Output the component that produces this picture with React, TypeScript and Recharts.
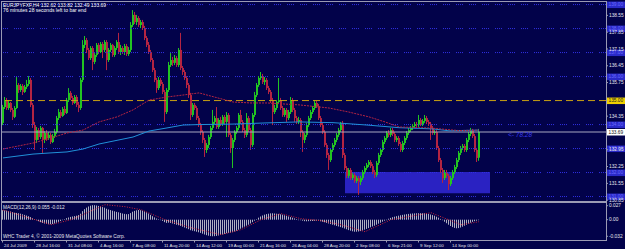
import React from "react";
import { ComposedChart, Bar, Line, XAxis, YAxis, ReferenceLine, ReferenceArea } from "recharts";

const BG = "#02024a";
const FRAME = "#9a9ab4";
const TEXT = "#e6e6ee";
const BULL = "#22c422";
const BEAR = "#b42442";
const LEVEL = "#3030e4";
const FONT = "'Liberation Sans', Arial, sans-serif";

// ── EURJPY H4 bars, 24 Jul – 16 Sep 2009 ─────────────────────────────────────
const opens = [134.07,134.73,135.02,134.69,134.90,134.61,134.32,134.69,135.65,135.44,
135.61,135.36,135.57,135.69,135.86,134.82,133.98,133.36,133.77,133.48,
133.86,133.36,133.65,133.44,133.57,133.27,133.52,133.69,134.27,134.52,
134.36,134.65,134.48,135.02,135.32,135.11,134.90,135.15,134.82,134.69,
135.86,137.32,137.52,137.11,136.77,137.19,136.61,136.90,137.32,137.02,
137.36,137.11,137.44,136.69,137.11,137.32,136.90,137.19,137.44,137.02,
137.19,137.02,137.27,136.94,137.11,138.15,138.57,138.27,138.44,138.15,
138.27,138.02,137.61,137.32,137.02,136.69,136.27,135.86,135.52,135.86,
135.69,135.36,134.52,135.44,136.48,136.69,136.57,136.77,136.48,137.11,
136.36,136.19,135.94,135.65,135.23,134.40,134.82,134.69,134.27,133.98,
133.69,133.36,132.94,133.15,133.48,133.86,134.11,134.27,133.90,134.19,
134.02,134.32,134.11,134.40,133.57,133.02,133.36,133.69,133.86,134.40,
134.11,133.77,133.57,134.27,133.77,133.15,134.40,135.23,135.65,135.94,
136.02,135.77,135.86,135.52,135.36,135.02,134.52,134.69,134.94,135.02,
134.69,134.40,134.61,134.27,134.52,135.02,134.61,134.27,134.11,134.19,
133.69,133.36,133.57,133.98,134.27,134.52,134.69,134.90,134.77,134.27,
133.98,133.69,133.15,132.73,132.52,132.94,133.15,133.36,133.57,133.77,
134.07,132.73,132.19,131.86,132.11,131.77,131.90,131.65,131.77,131.61,
131.77,132.02,132.19,132.32,132.44,132.27,132.02,131.90,132.40,132.73,
132.94,133.27,133.44,133.65,133.57,133.77,133.61,133.36,133.44,133.19,
132.94,133.23,133.44,133.65,133.77,133.86,133.94,134.02,133.98,134.19,
134.02,134.15,134.27,134.11,134.02,133.86,133.65,133.69,133.02,132.52,
132.11,131.77,132.02,131.86,131.52,131.77,132.02,132.23,132.52,132.82,
133.02,133.11,132.94,133.36,133.61,133.73,133.52,132.94,132.62];

const highs = [134.82,135.15,135.11,135.02,134.94,134.69,134.77,135.98,135.73,135.69,
135.69,135.65,135.86,136.02,135.94,134.90,134.11,133.90,133.86,133.94,
133.90,133.73,133.77,133.69,133.65,133.61,133.82,134.36,134.65,134.61,
134.73,134.77,135.11,135.52,135.40,135.19,135.23,135.23,134.94,135.94,
137.52,137.69,137.61,137.19,137.27,137.27,136.98,137.40,137.40,137.44,
137.44,137.52,137.52,137.19,137.40,137.36,137.27,137.52,137.82,137.32,
137.27,137.36,137.36,137.23,138.27,138.77,138.69,138.57,138.52,138.36,
138.36,138.11,137.69,137.44,137.11,136.77,136.36,135.94,135.98,135.94,
135.77,135.44,135.52,136.61,136.98,136.82,136.90,136.86,137.19,137.82,
136.44,136.27,136.02,135.73,135.32,134.90,134.90,134.77,134.36,134.07,
133.77,133.44,133.23,133.57,133.94,134.61,134.36,134.73,134.27,134.32,
134.40,134.40,134.52,134.48,133.65,133.44,133.77,133.94,134.48,134.61,
134.19,133.86,134.48,134.36,133.86,134.48,135.36,135.73,136.02,136.19,
136.11,135.98,135.94,135.61,135.44,135.11,134.82,135.02,135.94,135.11,
134.77,134.69,134.69,134.61,135.15,135.11,134.69,134.36,134.32,134.27,
133.77,133.65,134.07,134.36,134.61,134.77,135.02,134.98,134.86,134.36,
134.07,133.77,133.23,132.82,133.02,133.23,133.44,133.65,133.86,134.11,
134.15,132.82,132.27,132.19,132.19,131.98,131.98,131.86,131.86,131.86,
132.11,132.27,132.40,132.52,132.52,132.36,132.11,132.48,132.82,133.02,
133.36,133.52,133.73,133.77,133.86,133.86,133.69,133.52,133.52,133.27,
133.32,133.52,133.73,133.86,133.94,134.02,134.11,134.11,134.40,134.27,
134.23,134.40,134.36,134.19,134.11,133.94,133.77,133.77,133.11,132.61,
132.19,132.11,132.11,131.94,131.86,132.11,132.32,132.61,132.90,133.11,
133.19,133.19,133.44,133.69,133.86,133.82,133.61,133.02,133.82];

const lows = [133.98,134.65,134.61,134.61,134.52,134.19,134.27,134.65,135.32,135.36,
135.23,135.32,135.48,135.61,134.73,133.86,132.94,133.23,133.36,133.40,
132.82,133.23,133.32,133.36,133.19,133.23,133.44,133.61,134.19,134.27,
134.32,134.40,134.44,134.94,135.02,134.82,134.86,134.73,134.52,134.61,
135.77,137.19,136.98,136.69,136.69,136.27,136.52,136.82,136.94,136.98,
136.77,137.02,136.27,136.61,137.02,136.82,136.82,137.11,136.94,136.90,
136.94,136.90,136.86,136.86,137.02,138.07,138.19,138.15,138.07,138.02,
137.94,137.52,137.23,136.94,136.61,136.19,135.77,135.32,135.44,135.61,
135.27,134.11,134.44,135.36,136.40,136.44,136.48,136.40,136.40,136.27,
136.07,135.86,135.52,135.11,134.19,134.32,134.61,134.19,133.90,133.57,
133.23,132.65,132.82,133.02,133.40,133.77,134.02,133.82,133.82,133.94,
133.94,134.02,133.48,133.48,132.82,132.19,133.27,133.61,133.77,134.02,
133.69,133.44,133.48,133.69,132.94,133.07,134.32,135.15,135.57,135.86,
135.69,135.65,135.44,135.27,134.90,133.98,134.44,134.61,134.86,134.61,
134.32,134.32,134.11,134.19,134.44,134.52,134.11,134.02,134.02,133.48,
132.86,133.23,133.48,133.90,134.19,134.44,134.61,134.69,134.19,133.90,
133.61,133.07,132.61,132.11,132.44,132.86,133.07,133.27,133.48,133.69,
132.61,132.11,131.77,131.77,131.69,131.69,131.57,131.57,131.07,131.48,
131.69,131.94,132.11,132.23,132.19,131.94,131.77,131.82,132.32,132.65,
132.86,133.19,133.36,133.48,133.48,133.52,133.27,133.27,133.11,132.86,
132.86,133.15,133.36,133.57,133.69,133.77,133.86,133.90,133.90,133.94,
133.94,134.07,134.02,133.94,133.36,133.57,133.57,132.94,132.44,131.98,
131.57,131.69,131.77,131.27,131.44,131.69,131.94,132.15,132.44,132.73,
132.94,132.86,132.86,133.27,133.52,133.44,132.86,132.44,132.49];

const closes = [134.73,135.02,134.69,134.90,134.61,134.32,134.69,135.65,135.44,135.61,
135.36,135.57,135.69,135.86,134.82,133.98,133.36,133.77,133.48,133.86,
133.36,133.65,133.44,133.57,133.27,133.52,133.69,134.27,134.52,134.36,
134.65,134.48,135.02,135.32,135.11,134.90,135.15,134.82,134.69,135.86,
137.32,137.52,137.11,136.77,137.19,136.61,136.90,137.32,137.02,137.36,
137.11,137.44,136.69,137.11,137.32,136.90,137.19,137.44,137.02,137.19,
137.02,137.27,136.94,137.11,138.15,138.57,138.27,138.44,138.15,138.27,
138.02,137.61,137.32,137.02,136.69,136.27,135.86,135.52,135.86,135.69,
135.36,134.52,135.44,136.48,136.69,136.57,136.77,136.48,137.11,136.36,
136.19,135.94,135.65,135.23,134.40,134.82,134.69,134.27,133.98,133.69,
133.36,132.94,133.15,133.48,133.86,134.11,134.27,133.90,134.19,134.02,
134.32,134.11,134.40,133.57,133.02,133.36,133.69,133.86,134.40,134.11,
133.77,133.57,134.27,133.77,133.15,134.40,135.23,135.65,135.94,136.02,
135.77,135.86,135.52,135.36,135.02,134.52,134.69,134.94,135.02,134.69,
134.40,134.61,134.27,134.52,135.02,134.61,134.27,134.11,134.19,133.69,
133.36,133.57,133.98,134.27,134.52,134.69,134.90,134.77,134.27,133.98,
133.69,133.15,132.73,132.52,132.94,133.15,133.36,133.57,133.77,134.07,
132.73,132.19,131.86,132.11,131.77,131.90,131.65,131.77,131.61,131.77,
132.02,132.19,132.32,132.44,132.27,132.02,131.90,132.40,132.73,132.94,
133.27,133.44,133.65,133.57,133.77,133.61,133.36,133.44,133.19,132.94,
133.23,133.44,133.65,133.77,133.86,133.94,134.02,133.98,134.19,134.02,
134.15,134.27,134.11,134.02,133.86,133.65,133.69,133.02,132.52,132.11,
131.77,132.02,131.86,131.52,131.77,132.02,132.23,132.52,132.82,133.02,
133.11,132.94,133.36,133.61,133.73,133.52,132.94,132.61,133.69];

// moving averages, read where the curves bend (bar index -> price)
const redMaIdx = [0,15,24,32,40,48,57,65,73,82,90,98,115,124,132,148,163,173,183,191,198,213,228,238];
const redMaVal = [132.98,133.23,133.44,133.65,133.77,134.11,134.32,134.61,135.02,135.15,135.23,135.32,134.94,134.90,134.90,134.82,134.69,134.52,134.32,134.11,133.90,133.86,133.75,133.77];
const blueMaIdx = [0,15,24,32,40,48,65,73,82,90,98,115,132,148,165,182,198,215,223,238];
const blueMaVal = [132.61,132.77,132.82,132.86,132.98,133.19,133.48,133.73,133.86,133.98,134.00,134.02,134.07,134.11,134.08,133.98,133.87,133.82,133.74,133.77];

// ── MACD(12,26,9) ─────────────────────────────────────────────────────────────
const macdHist = [0.0183,0.0179,0.0174,0.0168,0.0158,0.0147,0.0135,0.0131,0.0125,0.0116,
0.0104,0.0093,0.0081,0.0068,0.0050,0.0029,0.0012,-0.0010,-0.0029,-0.0048,
-0.0062,-0.0073,-0.0081,-0.0087,-0.0087,-0.0083,-0.0073,-0.0058,-0.0042,-0.0025,
-0.0008,0.0010,0.0029,0.0042,0.0054,0.0062,0.0069,0.0077,0.0089,0.0116,
0.0164,0.0203,0.0232,0.0255,0.0270,0.0280,0.0280,0.0274,0.0266,0.0255,
0.0243,0.0232,0.0212,0.0197,0.0185,0.0174,0.0162,0.0151,0.0143,0.0131,
0.0120,0.0112,0.0106,0.0108,0.0127,0.0154,0.0170,0.0181,0.0187,0.0183,
0.0174,0.0160,0.0143,0.0120,0.0093,0.0068,0.0044,0.0023,0.0010,-0.0006,
-0.0023,-0.0048,-0.0062,-0.0058,-0.0062,-0.0073,-0.0085,-0.0097,-0.0108,-0.0120,
-0.0135,-0.0151,-0.0166,-0.0183,-0.0203,-0.0212,-0.0222,-0.0232,-0.0243,-0.0255,
-0.0270,-0.0286,-0.0299,-0.0309,-0.0317,-0.0320,-0.0318,-0.0313,-0.0305,-0.0295,
-0.0286,-0.0274,-0.0261,-0.0255,-0.0251,-0.0241,-0.0228,-0.0212,-0.0193,-0.0174,
-0.0154,-0.0135,-0.0116,-0.0097,-0.0073,-0.0048,-0.0019,0.0010,0.0039,0.0062,
0.0081,0.0097,0.0108,0.0116,0.0122,0.0124,0.0120,0.0116,0.0112,0.0104,
0.0097,0.0085,0.0073,0.0062,0.0050,0.0039,0.0025,0.0012,0,-0.0010,
-0.0019,-0.0029,-0.0031,-0.0029,-0.0027,-0.0025,-0.0021,-0.0019,-0.0023,-0.0031,
-0.0039,-0.0050,-0.0062,-0.0073,-0.0085,-0.0097,-0.0108,-0.0120,-0.0131,-0.0143,
-0.0154,-0.0170,-0.0185,-0.0201,-0.0212,-0.0224,-0.0232,-0.0232,-0.0228,-0.0220,
-0.0208,-0.0193,-0.0178,-0.0162,-0.0147,-0.0131,-0.0116,-0.0097,-0.0077,-0.0058,
-0.0039,-0.0019,0,0.0019,0.0035,0.0048,0.0058,0.0068,0.0077,0.0085,
0.0093,0.0100,0.0106,0.0112,0.0116,0.0120,0.0122,0.0124,0.0125,0.0125,
0.0124,0.0124,0.0120,0.0112,0.0100,0.0089,0.0077,0.0058,0.0039,0.0015,
-0.0010,-0.0039,-0.0068,-0.0097,-0.0122,-0.0143,-0.0158,-0.0166,-0.0162,-0.0151,
-0.0135,-0.0116,-0.0097,-0.0077,-0.0058,-0.0042,-0.0029,-0.0019,-0.0010];
const signalIdx = [0,16,24,34,41,51,61,69,81,94,109,119,129,139,149,159,169,181,194,214,229,238];
const signalVal = [0.0187,0,-0.0097,0,0.0116,0.0290,0.0251,0.0193,0,-0.0154,-0.0290,-0.0193,0,0.0116,0.0019,-0.0019,-0.0097,-0.0232,0,0.0135,-0.0097,-0.0039];

// ── axes, levels, objects ─────────────────────────────────────────────────────
const timeTickIdx = [0,16,32,48,64,80,96,112,128,144,160,176,192,208,224];
const timeLabels = ["24 Jul 2009","28 Jul 16:00","31 Jul 08:00","4 Aug 16:00","7 Aug 08:00","11 Aug 20:00","14 Aug 12:00","19 Aug 00:00","21 Aug 16:00","26 Aug 04:00","28 Aug 20:00","2 Sep 08:00","6 Sep 21:00","9 Sep 12:00","14 Sep 00:00"];
const priceTicks = [138.55,137.85,137.15,136.45,135.75,134.35,132.95,132.25,131.55,130.85];
const levelLines = [139, 138, 137, 136, 134, 133, 132, 131];
const pivotLevel = 135.0;
const bidPrice = 133.69;
const zoneX = [171, 243.5];
const zoneY = [131.14, 132.02];
const macdTicks = [0.027, 0, -0.032];

const redAt = new Map(redMaIdx.map((k, j) => [k, redMaVal[j]]));
const blueAt = new Map(blueMaIdx.map((k, j) => [k, blueMaVal[j]]));
const sigAt = new Map(signalIdx.map((k, j) => [k, signalVal[j]]));

const rows = closes.map((c, i) => ({
  i,
  open: opens[i],
  high: highs[i],
  low: lows[i],
  close: c,
  range: [lows[i], highs[i]],
  maRed: redAt.get(i) ?? null,
  maBlue: blueAt.get(i) ?? null,
  hist: macdHist[i],
  signal: sigAt.get(i) ?? null,
}));

function Candle(props: any) {
  const { x, y, width, height, payload } = props;
  if (!payload || x == null || y == null) return null;
  const top = Math.min(y, y + height);
  const h = Math.abs(height);
  const span = payload.high - payload.low || 1;
  const toY = (v: number) => top + ((payload.high - v) / span) * h;
  const color = payload.close >= payload.open ? BULL : BEAR;
  const cx = Math.round(x + width / 2);
  const b0 = toY(Math.max(payload.open, payload.close));
  const b1 = toY(Math.min(payload.open, payload.close));
  return (
    <g>
      <rect x={cx - 1} y={top} width={1} height={Math.max(h, 1)} fill={color} />
      <rect x={cx - 1} y={b0} width={2} height={Math.max(b1 - b0, 1)} fill={color} />
    </g>
  );
}

function HistBar(props: any) {
  const { x, y, width, height } = props;
  if (x == null || y == null) return null;
  const top = Math.min(y, y + height);
  const cx = Math.round(x + width / 2);
  return <rect x={cx - 1} y={top} width={1} height={Math.max(Math.abs(height), 0.5)} fill="#b0b0c2" />;
}

function TimeTick(props: any) {
  const { x, payload } = props;
  const k = timeTickIdx.indexOf(payload.value);
  const tx = Math.round(x) - 1;
  return (
    <g>
      <rect x={tx} y={39} width={1} height={2.5} fill={FRAME} />
      <text x={tx + 2} y={45.5} fontSize={4.4} fill={TEXT} fontFamily={FONT}>{timeLabels[k]}</text>
    </g>
  );
}

const tag = (text: string, fill: string, color: string) => (props: any) => {
  const vb = props.viewBox;
  if (!vb) return null;
  const x = vb.x + vb.width + 1;
  return (
    <g>
      <rect x={x} y={vb.y - 3} width={18} height={6.5} fill={fill} />
      <text x={x + 1.5} y={vb.y + 1.8} fontSize={4.8} fill={color} fontFamily={FONT}>{text}</text>
    </g>
  );
};

export default function App() {
  return (
    <div style={{ position: "fixed", left: 0, top: 0, width: 625, height: 249, background: BG, overflow: "hidden" }}>
      <div style={{ position: "absolute", left: 0, top: 0 }}>
        <ComposedChart width={625} height={203} data={rows} margin={{ top: 2, right: 0, bottom: 2, left: 2 }}>
          <XAxis dataKey="i" type="number" domain={[-0.5, 301.5]} hide allowDataOverflow />
          <YAxis
            orientation="right"
            width={19}
            domain={[130.815, 139.107]}
            allowDataOverflow
            ticks={priceTicks}
            interval={0}
            tickFormatter={(v: number) => v.toFixed(2)}
            tick={{ fontSize: 4.8, fill: TEXT, fontFamily: FONT }}
            tickLine={{ stroke: FRAME }}
            tickSize={2}
            tickMargin={1}
            axisLine={false}
          />
          <ReferenceArea x1={zoneX[0]} x2={zoneX[1]} y1={zoneY[0]} y2={zoneY[1]} fill="#2a22c2" fillOpacity={1} stroke="none" />
          {levelLines.map((lv) => (
            <ReferenceLine
              key={lv}
              y={lv}
              stroke={LEVEL}
              strokeDasharray="1 1 1 1 1 1 1 6"
              label={tag(lv.toFixed(2), "#2a2ac8", "#6a6aff")}
            />
          ))}
          <ReferenceLine y={pivotLevel} stroke="#c8a014" strokeDasharray="7 4" label={tag(pivotLevel.toFixed(2), "#f0d000", "#202020")} />
          <ReferenceLine y={bidPrice} stroke="#a8a8c0" label={tag(bidPrice.toFixed(2), "#ffffff", "#101010")} />
          <Line dataKey="maBlue" stroke="#2090d8" strokeWidth={1} dot={false} connectNulls isAnimationActive={false} />
          <Line dataKey="maRed" stroke="#b42442" strokeWidth={1} strokeDasharray="2 1" dot={false} connectNulls isAnimationActive={false} />
          <Bar dataKey="range" barSize={2} shape={(p: any) => <Candle {...p} />} isAnimationActive={false} />
        </ComposedChart>
      </div>
      <div style={{ position: "absolute", left: 0, top: 201 }}>
        <ComposedChart width={625} height={48} data={rows} margin={{ top: 2, right: 0, bottom: 0, left: 2 }}>
          <XAxis
            dataKey="i"
            type="number"
            domain={[-0.5, 301.5]}
            allowDataOverflow
            ticks={timeTickIdx}
            interval={0}
            height={9}
            axisLine={false}
            tickLine={false}
            tick={(p: any) => <TimeTick {...p} />}
          />
          <YAxis
            orientation="right"
            width={19}
            domain={[-0.0392, 0.0322]}
            allowDataOverflow
            ticks={macdTicks}
            interval={0}
            tickFormatter={(v: number) => (v === 0 ? "0.00" : String(v))}
            tick={{ fontSize: 4.8, fill: TEXT, fontFamily: FONT }}
            tickLine={{ stroke: FRAME }}
            tickSize={2}
            tickMargin={1}
            axisLine={false}
          />
          <Bar dataKey="hist" barSize={2} shape={(p: any) => <HistBar {...p} />} isAnimationActive={false} />
          <Line dataKey="signal" stroke="#d0283c" strokeWidth={1} strokeDasharray="1 1.5" dot={false} connectNulls isAnimationActive={false} />
        </ComposedChart>
      </div>
      <div style={{ position: "absolute", left: 1, top: 1, width: 606, height: 201, boxSizing: "border-box", border: `1px solid ${FRAME}` }} />
      <div style={{ position: "absolute", left: 1, top: 202, width: 606, height: 39, boxSizing: "border-box", border: `1px solid ${FRAME}` }} />
      <svg width={625} height={249} style={{ position: "absolute", left: 0, top: 0, pointerEvents: "none" }}>
        <text x={3} y={6.5} fontSize={5} fill="#ffffff" fontFamily={FONT}>EURJPYFXF,H4  132.62 133.82 132.49 133.69</text>
        <text x={3} y={12} fontSize={5} fill="#ffffff" fontFamily={FONT}>76 minutes 28 seconds left to bar end</text>
        <text x={508} y={137} fontSize={6.5} fill="#3c3cf0" fontFamily={FONT} fontStyle="italic">&lt;- 78.28</text>
        <text x={3} y={209} fontSize={4.8} fill={TEXT} fontFamily={FONT}>MACD(12,26,9) 0.055 -0.012</text>
        <text x={3} y={237.5} fontSize={4.8} fill={TEXT} fontFamily={FONT}>WHC Trader 4, © 2001-2009 MetaQuotes Software Corp.</text>
      </svg>
    </div>
  );
}
